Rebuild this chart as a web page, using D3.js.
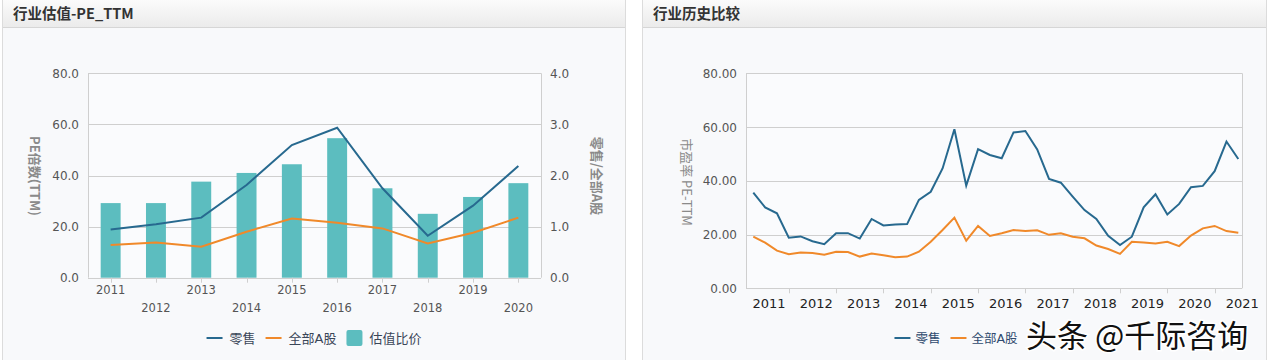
<!DOCTYPE html>
<html><head><meta charset="utf-8">
<script src="https://cdn.jsdelivr.net/npm/d3@7"></script>
<style>
html,body{margin:0;padding:0;background:#fff;}
svg{display:block;}
text{font-family:"DejaVu Sans","Noto Sans CJK SC",sans-serif;}
</style></head>
<body>
<svg id="c" width="1268" height="360"></svg>
<script>
// ---------- data: left chart ----------
const years = ["2011","2012","2013","2014","2015","2016","2017","2018","2019","2020"];
const retailAnnual = [18.9,20.9,23.5,36.3,51.9,58.7,35.0,16.4,28.2,43.7];
const allAAnnual   = [12.8,13.8,12.1,18.0,23.2,21.5,19.3,13.4,17.6,23.5];
const ratioAnnual  = [1.46,1.46,1.88,2.05,2.22,2.73,1.75,1.25,1.58,1.85];
const leftTicks = [0,20,40,60,80];
const rightTicks = [0,1,2,3,4];
// ---------- data: right chart (quarterly) ----------
const retailQ = [35.6,30.1,27.9,18.8,19.3,17.5,16.4,20.5,20.5,18.5,25.8,23.4,23.7,23.9,
  32.9,35.9,44.6,59.2,38.2,51.8,49.6,48.4,58.0,58.5,51.7,40.7,39.3,34.1,
  29.1,25.8,19.5,16.1,19.2,30.1,35.0,27.5,31.4,37.6,38.1,43.6,54.6,48.1];
const allAQ = [19.2,17.0,14.0,12.7,13.3,13.1,12.5,13.6,13.5,11.8,12.9,12.3,11.6,11.8,
  13.6,17.3,21.7,26.3,17.7,23.2,19.5,20.5,21.7,21.3,21.6,19.9,20.5,19.2,
  18.6,15.9,14.6,12.8,17.3,17.0,16.7,17.3,15.7,19.6,22.3,23.2,21.3,20.7];
const histYears = ["2011","2012","2013","2014","2015","2016","2017","2018","2019","2020","2021"];
const histTicks = [0,20,40,60,80];

const C_BLUE="#27698f", C_ORANGE="#f0892a", C_TEAL="#5cbdbf", C_GRID="#cfcfcf";
const svg = d3.select("#c");

// panels
function panel(x, w, title){
  const g = svg.append("g");
  const grad = svg.append("defs").append("linearGradient").attr("id","gr"+x).attr("x1",0).attr("y1",0).attr("x2",0).attr("y2",1);
  grad.append("stop").attr("offset","0").attr("stop-color","#fbfbfb");
  grad.append("stop").attr("offset","1").attr("stop-color","#ebebeb");
  g.append("rect").attr("x",x+0.5).attr("y",-1).attr("width",w).attr("height",362).attr("fill","#f8f9fb").attr("stroke","#dcdcdc");
  g.append("rect").attr("x",x+1).attr("y",0).attr("width",w-1).attr("height",27).attr("fill","url(#gr"+x+")");
  g.append("line").attr("x1",x+1).attr("x2",x+w).attr("y1",27.5).attr("y2",27.5).attr("stroke","#d6d6d6");
  g.append("text").attr("x",x+11).attr("y",19).attr("font-size",14.5).attr("font-weight","bold")
    .attr("fill","#333").style("font-family","'Noto Sans CJK SC',sans-serif").text(title);
}
panel(2,623,"行业估值-PE_TTM");
panel(642,624,"行业历史比较");

// ---------- left chart ----------
(function(){
  const L=88,R=541,T=73.3,B=277.7;
  const x = d3.scaleBand().domain(years).range([L,R]).paddingInner(0.56).paddingOuter(0.28);
  const yL = d3.scaleLinear().domain([0,80]).range([B,T]);
  const yR = d3.scaleLinear().domain([0,4]).range([B,T]);
  const g = svg.append("g");
  g.append("rect").attr("x",L).attr("y",T).attr("width",R-L).attr("height",B-T).attr("fill","#fafbfd");
  g.selectAll(".gl").data(leftTicks).join("line").attr("x1",L).attr("x2",R)
    .attr("y1",d=>Math.round(yL(d))+0.5).attr("y2",d=>Math.round(yL(d))+0.5).attr("stroke",C_GRID);
  g.append("line").attr("x1",L+0.5).attr("x2",L+0.5).attr("y1",T).attr("y2",B).attr("stroke",C_GRID);
  g.append("line").attr("x1",R+0.5).attr("x2",R+0.5).attr("y1",T).attr("y2",B).attr("stroke",C_GRID);
  // bars
  g.selectAll(".bar").data(ratioAnnual).join("rect")
    .attr("x",(d,i)=>x(years[i])).attr("width",x.bandwidth())
    .attr("y",d=>yR(d)).attr("height",d=>B-yR(d)).attr("fill",C_TEAL);
  // x ticks + labels
  const xc = d=>x(d)+x.bandwidth()/2;
  g.selectAll(".xt").data(years).join("line").attr("x1",d=>Math.round(xc(d))+0.5).attr("x2",d=>Math.round(xc(d))+0.5)
    .attr("y1",B).attr("y2",B+5).attr("stroke",C_GRID);
  g.selectAll(".xl").data(years).join("text").attr("x",xc).attr("y",(d,i)=>i%2===0?294:312)
    .attr("text-anchor","middle").attr("font-size",11.5).attr("fill","#555").text(d=>d);
  // y labels
  g.selectAll(".yl").data(leftTicks).join("text").attr("x",79).attr("y",d=>yL(d)+4.5)
    .attr("text-anchor","end").attr("font-size",12).attr("fill","#555").text(d=>d3.format(".1f")(d));
  g.selectAll(".yr").data(rightTicks).join("text").attr("x",550).attr("y",d=>yR(d)+4.5)
    .attr("text-anchor","start").attr("font-size",12).attr("fill","#555").text(d=>d3.format(".1f")(d));
  // lines
  const line = d3.line().x((d,i)=>xc(years[i])).y(d=>yL(d));
  g.append("path").datum(allAAnnual).attr("d",line).attr("fill","none").attr("stroke",C_ORANGE).attr("stroke-width",2);
  g.append("path").datum(retailAnnual).attr("d",line).attr("fill","none").attr("stroke",C_BLUE).attr("stroke-width",2);
  // axis titles
  g.append("text").attr("transform","translate(30,176) rotate(90)").attr("text-anchor","middle")
    .attr("font-size",13).attr("font-weight","bold").attr("fill","#8a8a8a").style("font-family","'Noto Sans CJK SC',sans-serif").text("PE倍数(TTM)");
  g.append("text").attr("transform","translate(592,176) rotate(90)").attr("text-anchor","middle")
    .attr("font-size",13).attr("font-weight","bold").attr("fill","#8a8a8a").style("font-family","'Noto Sans CJK SC',sans-serif").text("零售/全部A股");
  // legend
  const lg = g.append("g").style("font-family","'Noto Sans CJK SC',sans-serif");
  const items=[{t:"零售",c:C_BLUE,k:"l"},{t:"全部A股",c:C_ORANGE,k:"l"},{t:"估值比价",c:C_TEAL,k:"r"}];
  let cx=0;
  items.forEach(it=>{
    const gi = lg.append("g").attr("transform",`translate(${cx},0)`);
    if(it.k==="l") gi.append("line").attr("x1",0).attr("x2",16).attr("y1",0).attr("y2",0).attr("stroke",it.c).attr("stroke-width",2);
    else gi.append("rect").attr("x",0).attr("y",-8).attr("width",16).attr("height",16).attr("rx",2).attr("fill",it.c);
    const t = gi.append("text").attr("x",23).attr("y",4.5).attr("font-size",13).attr("fill","#3a4658").text(it.t);
    cx += 23 + t.node().getComputedTextLength() + 10;
  });
  const tot = cx-10;
  lg.attr("transform",`translate(${314-tot/2},338)`);
})();

// ---------- right chart ----------
(function(){
  const L=746,R=1242,T=73.3,B=288.3;
  const x = d3.scaleLinear().domain([0,retailQ.length-1]).range([753.3,1238.3]);
  const y = d3.scaleLinear().domain([0,80]).range([B,T]);
  const g = svg.append("g");
  g.append("rect").attr("x",L).attr("y",T).attr("width",R-L).attr("height",B-T).attr("fill","#fafbfd");
  g.selectAll(".gl").data(histTicks).join("line").attr("x1",L).attr("x2",R)
    .attr("y1",d=>Math.round(y(d))+0.5).attr("y2",d=>Math.round(y(d))+0.5).attr("stroke",C_GRID);
  g.append("line").attr("x1",L+0.5).attr("x2",L+0.5).attr("y1",T).attr("y2",B).attr("stroke",C_GRID);
  g.append("line").attr("x1",R+0.5).attr("x2",R+0.5).attr("y1",T).attr("y2",B).attr("stroke",C_GRID);
  // ticks every 4 quarters starting at index 3
  const tickIdx = d3.range(3, retailQ.length, 4);
  g.selectAll(".xt").data(tickIdx).join("line").attr("x1",d=>Math.round(x(d))+0.5).attr("x2",d=>Math.round(x(d))+0.5)
    .attr("y1",B).attr("y2",B+5).attr("stroke",C_GRID);
  g.selectAll(".xl").data(histYears).join("text").attr("x",(d,i)=>x(4*i+1.33)).attr("y",308)
    .attr("text-anchor","middle").attr("font-size",13).attr("fill","#222").text(d=>d);
  g.selectAll(".yl").data(histTicks).join("text").attr("x",737).attr("y",d=>y(d)+4.5)
    .attr("text-anchor","end").attr("font-size",12).attr("fill","#555").text(d=>d3.format(".2f")(d));
  const line = d3.line().x((d,i)=>x(i)).y(d=>y(d));
  g.append("path").datum(allAQ).attr("d",line).attr("fill","none").attr("stroke",C_ORANGE).attr("stroke-width",2);
  g.append("path").datum(retailQ).attr("d",line).attr("fill","none").attr("stroke",C_BLUE).attr("stroke-width",2);
  g.append("text").attr("transform","translate(682,182) rotate(90)").attr("text-anchor","middle")
    .attr("font-size",13).attr("fill","#8a8a8a").style("font-family","'Noto Sans CJK SC',sans-serif").text("市盈率 PE-TTM");
  // legend
  const lg = g.append("g").style("font-family","'Noto Sans CJK SC',sans-serif");
  const items=[{t:"零售",c:C_BLUE},{t:"全部A股",c:C_ORANGE}];
  let cx=0;
  items.forEach(it=>{
    const gi = lg.append("g").attr("transform",`translate(${cx},0)`);
    gi.append("line").attr("x1",0).attr("x2",16).attr("y1",0).attr("y2",0).attr("stroke",it.c).attr("stroke-width",2);
    const t = gi.append("text").attr("x",21).attr("y",4.5).attr("font-size",12.5).attr("fill","#2f4a6e").text(it.t);
    cx += 21 + t.node().getComputedTextLength() + 10;
  });
  lg.attr("transform",`translate(${956-(cx-10)/2},338)`);
})();

// watermark overlay
svg.append("text").attr("x",1026).attr("y",347).attr("font-size",31)
  .style("font-family","'Noto Sans CJK SC',sans-serif")
  .attr("fill","#111").attr("stroke","#fff").attr("stroke-width",3).attr("paint-order","stroke")
  .text("头条 @千际咨询");
</script>
</body></html>
